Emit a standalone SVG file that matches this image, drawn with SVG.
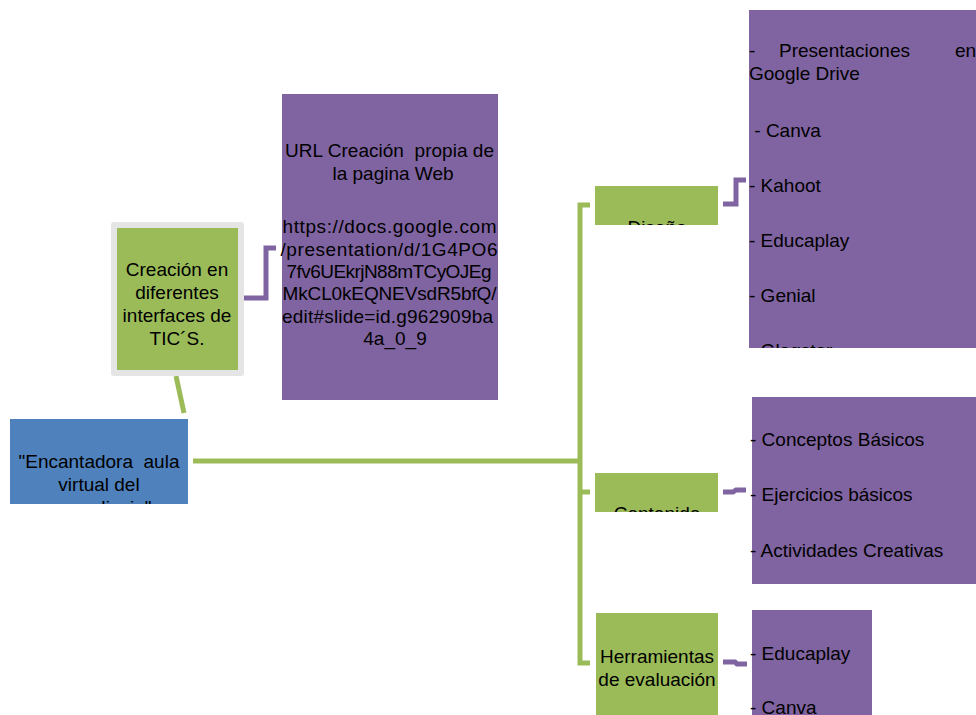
<svg xmlns="http://www.w3.org/2000/svg" width="976" height="715" viewBox="0 0 976 715">
<style>
text{font-family:"Liberation Sans",Arial,sans-serif;font-size:19px;fill:#000;white-space:pre}
.c{text-anchor:middle}
.green{fill:#9bbb59}
.purple{fill:#8064a2}
.blue{fill:#4f81bd}
.gl{fill:none;stroke:#9bbb59;stroke-width:5}
.pl{fill:none;stroke:#8064a2;stroke-width:5}
</style>
<defs>
<clipPath id="clipRoot"><rect x="10" y="419" width="178" height="85"/></clipPath>
<clipPath id="clipDis"><rect x="595" y="186" width="123" height="39"/></clipPath>
<clipPath id="clipCon"><rect x="595" y="473" width="123" height="39"/></clipPath>
<clipPath id="clipL1"><rect x="749" y="10" width="227" height="338"/></clipPath>
</defs>
<rect width="976" height="715" fill="#fff"/>
<g id="connectors">
<line class="gl" x1="176" y1="376" x2="184" y2="413"/>
<path class="gl" d="M193,461 H580"/>
<path class="gl" d="M590,205 H580 V663 H590"/>
<path class="gl" d="M580,492 H590"/>
<path class="pl" d="M244,298 H266 V248 H276"/>
<path class="pl" d="M723,204 H736 V180 H746"/>
<path class="pl" d="M723,492 H733 L736,490 H746"/>
<path class="pl" d="M723,662 H735 L737,664 H747"/>
</g>
<g id="node-root">
<rect class="blue" x="10" y="419" width="178" height="85"/>
<g clip-path="url(#clipRoot)">
<text class="c" x="99" y="468">"Encantadora  aula</text>
<text class="c" x="99" y="491">virtual del</text>
<text class="c" x="99" y="514">aprendizaje"</text>
</g>
</g>
<g id="node-tics">
<rect x="111" y="222" width="133" height="154" rx="3" fill="#e5e5e5"/>
<rect class="green" x="117" y="228" width="121" height="142"/>
<text class="c" x="177" y="276">Creación en</text>
<text class="c" x="177" y="299">diferentes</text>
<text class="c" x="177" y="322">interfaces de</text>
<text class="c" x="177" y="345">TIC´S.</text>
</g>
<g id="node-url">
<rect class="purple" x="282" y="94" width="216" height="306"/>
<text class="c" x="389.5" y="157" textLength="209" lengthAdjust="spacing">URL Creación  propia de</text>
<text class="c" x="393" y="180">la pagina Web</text>
<text class="c" x="389.5" y="233" textLength="214" lengthAdjust="spacing">https://docs.google.com</text>
<text class="c" x="389" y="256" textLength="217" lengthAdjust="spacing">/presentation/d/1G4PO6</text>
<text class="c" x="389" y="278" textLength="205" lengthAdjust="spacing">7fv6UEkrjN88mTCyOJEg</text>
<text class="c" x="389.5" y="300" textLength="214" lengthAdjust="spacing">MkCL0kEQNEVsdR5bfQ/</text>
<text class="c" x="387.5" y="323" textLength="211" lengthAdjust="spacing">edit#slide=id.g962909ba</text>
<text class="c" x="395" y="345">4a_0_9</text>
</g>
<g id="node-diseno">
<rect class="green" x="595" y="186" width="123" height="39"/>
<text class="c" x="657" y="234" clip-path="url(#clipDis)">Diseño</text>
</g>
<g id="node-contenido">
<rect class="green" x="595" y="473" width="123" height="39"/>
<text class="c" x="657" y="520" clip-path="url(#clipCon)">Contenido</text>
</g>
<g id="node-herramientas">
<rect class="green" x="596" y="613" width="122" height="102"/>
<text class="c" x="657" y="663">Herramientas</text>
<text class="c" x="657" y="686">de evaluación</text>
</g>
<g id="node-list-diseno">
<rect class="purple" x="749" y="10" width="227" height="338"/>
<g clip-path="url(#clipL1)">
<text x="749" y="57">-</text>
<text x="779" y="57">Presentaciones</text>
<text x="955" y="57">en</text>
<text x="749" y="80">Google Drive</text>
<text x="749" y="137"> - Canva</text>
<text x="749" y="192">- Kahoot</text>
<text x="749" y="247">- Educaplay</text>
<text x="749" y="302">- Genial</text>
<text x="749" y="357">- Glogster</text>
</g>
</g>
<g id="node-list-contenido">
<rect class="purple" x="752" y="397" width="224" height="187"/>
<text x="750" y="446">- Conceptos Básicos</text>
<text x="750" y="501">- Ejercicios básicos</text>
<text x="750" y="557">- Actividades Creativas</text>
</g>
<g id="node-list-herramientas">
<rect class="purple" x="752" y="610" width="120" height="105"/>
<text x="750" y="660">- Educaplay</text>
<text x="750" y="714">- Canva</text>
</g>
</svg>
